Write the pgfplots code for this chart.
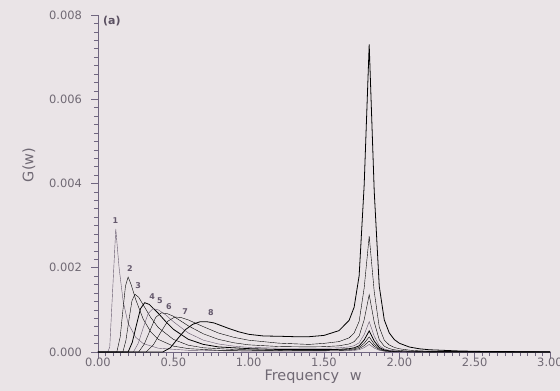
\documentclass[border=0pt]{standalone}
\usepackage{pgfplots}
\pgfplotsset{compat=1.18}
\usepackage{fontspec}
\setmainfont{DejaVu Sans}
\definecolor{bg}{RGB}{234,228,231}
\definecolor{ln}{RGB}{100,88,108}
\definecolor{tx}{RGB}{112,105,116}
\definecolor{axc}{RGB}{112,102,128}

\pgfplotstableread{
w G
0 0
0.065 0
0.078 0.00012
0.118 0.00292
0.14 0.00200
0.167 0.00120
0.2 0.00068
0.25 0.00035
0.3 0.00020
0.4 0.00009
0.6 0.00004
1.0 0.00002
1.5 0.0000221
1.6 0.0000248
1.6667 0.0000303
1.7 0.0000374
1.7333 0.0000546
1.7667 0.000104
1.8 0.00018
1.8333 0.0000938
1.8667 0.0000386
1.9 0.0000174
1.9333 0.0000103
1.9667 0.0000068
2.0 0.0000048
2.0667 0.0000027
2.2 0.0000012
3.0 0
}\cA
\pgfplotstableread{
w G
0 0
0.125 0
0.1475 0.00036
0.165 0.00098
0.1825 0.00157
0.2 0.00178
0.22 0.00160
0.25 0.00125
0.3 0.00078
0.35 0.00048
0.4 0.00030
0.5 0.00014
0.6 0.00008
0.8 0.00004
1.2 0.00003
1.5 0.0000331
1.6 0.0000368
1.6667 0.0000448
1.7 0.0000551
1.7333 0.0000797
1.7667 0.000151
1.8 0.00026
1.8333 0.000136
1.8667 0.0000557
1.9 0.0000251
1.9333 0.0000148
1.9667 0.0000097
2.0 0.0000068
2.0667 0.0000039
2.2 0.0000017
3.0 0
}\cB
\pgfplotstableread{
w G
0 0
0.165 0
0.185 0.00027
0.205 0.00075
0.225 0.00121
0.245 0.00137
0.27 0.00130
0.3 0.00112
0.35 0.00082
0.4 0.00058
0.5 0.00030
0.6 0.00016
0.7 0.00010
0.9 0.00006
1.2 0.00004
1.5 0.0000443
1.6 0.0000495
1.6667 0.0000606
1.7 0.0000749
1.7333 0.000109
1.7667 0.000208
1.8 0.00036
1.8333 0.000188
1.8667 0.0000771
1.9 0.0000349
1.9333 0.0000206
1.9667 0.0000135
2.0 0.0000095
2.0667 0.0000054
2.2 0.0000024
3.0 0
}\cC
\pgfplotstableread{
w G
0 0
0.2 0
0.2275 0.00023
0.255 0.00064
0.2825 0.00103
0.31 0.00117
0.34 0.00113
0.4 0.00092
0.45 0.00072
0.5 0.00054
0.6 0.00030
0.7 0.00018
0.8 0.00012
1.0 0.00008
1.2 0.00006
1.5 0.000056
1.6 0.0000634
1.6667 0.000079
1.7 0.000099
1.7333 0.000147
1.7667 0.000286
1.8 0.0005
1.8333 0.000261
1.8667 0.000107
1.9 0.000049
1.9333 0.000029
1.9667 0.000019
2.0 0.0000134
2.0667 0.0000076
2.2 0.0000034
3.0 0
}\cD
\pgfplotstableread{
w G
0 0
0.235 0
0.2675 0.00021
0.3 0.00057
0.3325 0.00091
0.365 0.00103
0.4 0.00100
0.45 0.00088
0.5 0.00072
0.6 0.00045
0.7 0.00028
0.8 0.00019
0.9 0.00014
1.0 0.00011
1.2 0.00009
1.5 0.0000886
1.6 0.000099
1.6667 0.000121
1.7 0.00015
1.7333 0.000218
1.7667 0.000415
1.8 0.00072
1.8333 0.000375
1.8667 0.000154
1.9 0.0000698
1.9333 0.0000413
1.9667 0.000027
2.0 0.000019
2.0667 0.0000108
2.2 0.000005
3.0 0
}\cE
\pgfplotstableread{
w G
0 0
0.27 0
0.3075 0.00019
0.345 0.00051
0.3825 0.00082
0.42 0.00093
0.46 0.00091
0.5 0.00085
0.6 0.00062
0.7 0.00043
0.8 0.00030
0.9 0.00022
1.0 0.00017
1.2 0.00013
1.4 0.00012
1.5 0.000127
1.6 0.000147
1.6667 0.000191
1.7 0.000246
1.7333 0.00038
1.7667 0.000765
1.8 0.00136
1.8333 0.00071
1.8667 0.000292
1.9 0.000136
1.9333 0.0000806
1.9667 0.0000528
2.0 0.0000371
2.0667 0.000021
2.1333 0.0000136
2.2 0.0000095
3.0 0
}\cF
\pgfplotstableread{
w G
0 0
0.32 0
0.3675 0.00017
0.415 0.00046
0.4625 0.00073
0.51 0.00083
0.55 0.00082
0.6 0.00076
0.7 0.00060
0.8 0.00045
0.9 0.00035
1.0 0.00028
1.2 0.00021
1.4 0.00018
1.5 0.000205
1.6 0.000247
1.6667 0.000336
1.7 0.000451
1.7333 0.000727
1.7667 0.001522
1.8 0.00275
1.8333 0.001437
1.8667 0.000591
1.9 0.000281
1.9333 0.000166
1.9667 0.000109
2.0 0.0000766
2.0667 0.0000436
2.1333 0.000028
2.2 0.00002
2.4 0.00001
3.0 0
}\cG
\pgfplotstableread{
w G
0 0
0.43 0
0.48 0.00010
0.53 0.00032
0.58 0.00053
0.63 0.00066
0.68 0.00072
0.72 0.00072
0.77 0.00069
0.8 0.00065
0.867 0.00056
0.933 0.00048
1.0 0.00042
1.1 0.00038
1.2 0.000374
1.3 0.000364
1.4 0.000363
1.5 0.000394
1.6 0.000508
1.6667 0.000752
1.7 0.001063
1.7333 0.001812
1.7667 0.003968
1.8 0.0073
1.8333 0.003818
1.8667 0.001562
1.9 0.000763
1.9333 0.000452
1.9667 0.000295
2.0 0.000208
2.0667 0.000118
2.1333 0.000076
2.2 0.000053
2.4 0.000024
2.6 0.00001
3.0 0.000006
}\cH

\begin{document}
\begin{tikzpicture}
\path[use as bounding box, fill=bg] (-98bp,-39bp) rectangle (462bp,352bp);
\begin{axis}[
  anchor=south west, at={(0,0)},
  width=452bp, height=337bp, scale only axis,
  xmin=0, xmax=3, ymin=0, ymax=0.008,
  axis x line*=bottom, axis y line*=left,
  axis line style={axc, line width=0.8pt, -},
  clip=false,
  tick align=outside,
  major tick length=6.5bp, minor tick length=4bp,
  every tick/.append style={axc, line width=0.7pt},
  every minor tick/.append style={axc, line width=0.6pt},
  xtick={0,0.5,1,1.5,2,2.5,3}, minor x tick num=9,
  ytick={0,0.002,0.004,0.006,0.008}, minor y tick num=9,
  scaled y ticks=false, scaled x ticks=false,
  /pgf/number format/assume math mode=true,
  xticklabel style={/pgf/number format/fixed, /pgf/number format/fixed zerofill, /pgf/number format/precision=2, yshift=4bp},
  yticklabel style={/pgf/number format/fixed, /pgf/number format/fixed zerofill, /pgf/number format/precision=3, xshift=-6bp},
  tick label style={font=\fontsize{11.5}{13}\selectfont, text=tx},
  xlabel={Frequency\hspace{0.75em}w},
  ylabel={G(w)},
  label style={font=\fontsize{14.5}{16}\selectfont, text=tx},
  xlabel style={at={(axis description cs:0.476,0)}, anchor=center, yshift=-25bp},
  ylabel style={at={(axis description cs:-0.153,0.555)}, anchor=center},
  cycle list={{ln, solid, mark=none, line width=0.8pt}},
]
\addplot table[x=w,y=G] {\cA};
\addplot table[x=w,y=G] {\cB};
\addplot table[x=w,y=G] {\cC};
\addplot table[x=w,y=G] {\cD};
\addplot table[x=w,y=G] {\cE};
\addplot table[x=w,y=G] {\cF};
\addplot table[x=w,y=G] {\cG};
\addplot table[x=w,y=G] {\cH};
\begin{scope}[every node/.style={font=\fontsize{8}{9}\selectfont\bfseries, text=ln, inner sep=0pt}]
\node at (axis cs:0.116,0.00313) {1};
\node at (axis cs:0.211,0.00198) {2};
\node at (axis cs:0.267,0.00157) {3};
\node at (axis cs:0.36,0.00131) {4};
\node at (axis cs:0.41,0.00121) {5};
\node at (axis cs:0.47,0.00107) {6};
\node at (axis cs:0.578,0.00096) {7};
\node at (axis cs:0.749,0.00094) {8};
\end{scope}
\node[font=\fontsize{11}{12}\selectfont\bfseries, text=ln!90!black, anchor=west, inner sep=0pt] at (axis cs:0.033,0.00786) {(a)};
\end{axis}
\end{tikzpicture}
\end{document}
